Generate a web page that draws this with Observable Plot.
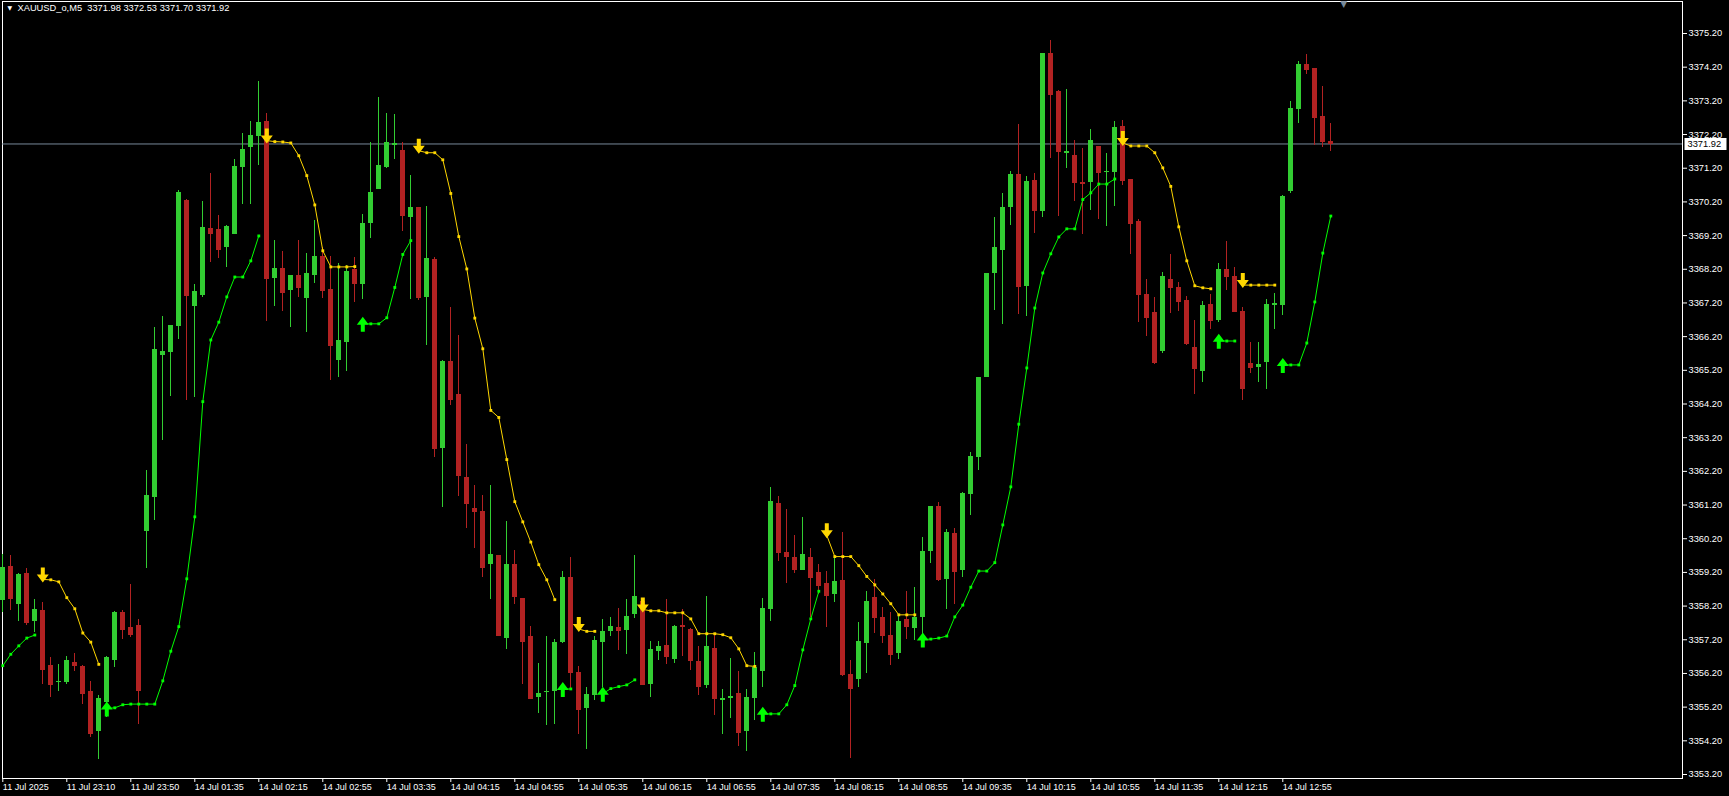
<!DOCTYPE html>
<html>
<head>
<meta charset="utf-8">
<script src="https://cdn.jsdelivr.net/npm/d3@7"></script>
<script src="https://cdn.jsdelivr.net/npm/@observablehq/plot@0.6"></script>
<style>
  html, body { margin: 0; padding: 0; background: #000; }
  #chart { width: 1729px; height: 796px; }
</style>
</head>
<body>
<div id="chart"></div>
<script>
// ---------- DATA (XAUUSD_o, M5) ----------
const symbolName = "XAUUSD_o,M5";
const opens = [
3358.36,3359.39,3358.25,3359.18,3357.74,3358.07,3356.43,3355.92,3355.93,3356.52,
3356.41,3355.66,3354.48,3355.35,3356.57,3358.00,3357.57,3357.62,3360.41,3361.41,
3365.64,3365.73,3366.50,3370.24,3367.10,3367.42,3369.41,3369.38,3368.86,3369.24,
3371.23,3371.83,3372.15,3372.59,3367.93,3368.22,3367.57,3368.01,3367.34,3368.02,
3368.58,3367.60,3365.50,3366.04,3368.20,3367.76,3369.56,3370.57,3371.22,3371.88,
3371.72,3369.75,3370.03,3367.37,3368.49,3362.87,3365.46,3364.48,3362.02,3361.10,
3361.01,3359.42,3359.70,3357.23,3359.43,3358.43,3357.30,3355.49,3355.62,3355.65,
3357.12,3359.05,3356.23,3355.16,3355.55,3357.12,3357.45,3357.56,3357.48,3357.95,
3358.34,3355.87,3356.85,3357.03,3356.62,3357.63,3357.51,3356.56,3355.84,3356.94,
3355.41,3355.47,3355.61,3354.48,3355.46,3356.26,3358.10,3361.25,3359.79,3359.65,
3359.27,3359.64,3359.20,3358.87,3358.53,3358.96,3356.17,3356.03,3357.10,3358.46,
3357.87,3357.33,3356.80,3357.80,3357.52,3357.85,3359.83,3361.15,3359.00,3360.35,
3359.25,3361.50,3362.62,3365.00,3368.07,3368.76,3370.03,3371.02,3367.69,3370.83,
3369.92,3374.60,3373.48,3371.65,3371.58,3370.78,3370.78,3371.84,3371.07,3371.08,
3372.44,3370.86,3369.62,3367.44,3366.91,3365.76,3367.91,3367.67,3367.26,3365.89,
3365.17,3367.14,3366.67,3368.19,3367.98,3366.94,3365.40,3365.29,3365.44,3367.13,
3367.12,3370.50,3372.94,3374.28,3374.16,3372.73,3371.98];
const highs = [
3359.73,3359.70,3359.16,3359.32,3358.40,3358.30,3356.66,3356.47,3356.69,3356.79,
3356.45,3355.95,3355.54,3356.70,3358.04,3358.08,3358.84,3357.79,3362.23,3366.48,
3366.79,3366.54,3370.54,3370.26,3367.75,3370.21,3371.05,3369.80,3369.50,3371.46,
3372.22,3372.59,3373.78,3372.83,3369.05,3368.73,3368.01,3369.05,3368.67,3369.65,
3368.86,3368.58,3368.36,3368.31,3368.55,3369.82,3371.95,3373.29,3372.82,3372.80,
3371.96,3370.99,3370.03,3370.06,3368.55,3365.50,3367.06,3366.23,3363.00,3361.79,
3361.49,3361.79,3359.70,3360.71,3359.85,3358.43,3357.60,3356.51,3357.30,3357.21,
3359.23,3359.65,3356.41,3355.78,3357.29,3357.80,3357.86,3358.13,3358.40,3359.70,
3358.36,3357.15,3357.15,3358.40,3357.63,3358.10,3357.53,3357.00,3358.49,3357.38,
3355.73,3356.65,3356.26,3355.73,3356.82,3358.43,3361.73,3361.46,3361.07,3360.30,
3360.83,3359.90,3359.44,3359.23,3359.67,3360.39,3356.59,3357.71,3358.64,3359.00,
3358.16,3358.00,3357.90,3358.63,3358.75,3360.24,3361.15,3361.28,3360.47,3360.50,
3361.57,3362.76,3364.99,3368.07,3369.73,3370.46,3371.11,3372.51,3370.96,3371.04,
3374.60,3374.99,3373.51,3373.54,3372.01,3371.78,3372.35,3371.84,3371.64,3372.59,
3372.62,3370.88,3369.67,3367.91,3367.36,3368.09,3368.65,3367.81,3367.38,3366.67,
3367.24,3367.44,3368.36,3369.02,3368.24,3367.07,3366.02,3366.02,3367.29,3367.49,
3370.39,3373.18,3374.37,3374.57,3374.16,3373.62,3372.53];
const lows = [
3358.02,3358.08,3357.74,3357.62,3357.43,3355.88,3355.49,3355.66,3355.88,3356.26,
3355.29,3354.30,3353.65,3354.90,3356.37,3357.22,3357.27,3354.67,3359.33,3360.75,
3363.11,3364.41,3366.12,3364.30,3364.38,3367.35,3368.41,3368.53,3368.24,3369.22,
3370.13,3370.13,3371.29,3366.66,3367.10,3366.95,3366.48,3367.37,3366.33,3367.79,
3367.34,3364.91,3364.99,3365.16,3367.20,3367.29,3369.10,3370.57,3371.20,3371.47,
3369.31,3367.30,3367.26,3365.95,3362.62,3361.14,3364.17,3361.44,3360.51,3359.92,
3359.04,3358.41,3357.32,3356.91,3358.24,3355.87,3355.44,3355.01,3354.65,3354.69,
3357.10,3355.74,3354.39,3353.94,3355.40,3355.79,3357.30,3356.88,3356.76,3357.84,
3355.87,3355.50,3356.57,3356.47,3356.51,3356.70,3356.29,3355.55,3355.76,3354.95,
3354.39,3354.86,3354.04,3353.89,3354.79,3355.79,3357.73,3359.51,3358.88,3359.18,
3359.27,3357.86,3358.55,3357.56,3358.32,3356.12,3353.67,3355.79,3356.21,3357.40,
3357.10,3356.45,3356.60,3357.21,3357.17,3357.33,3359.46,3358.93,3358.11,3358.25,
3359.04,3360.90,3362.24,3365.00,3366.97,3366.56,3369.51,3366.86,3366.80,3369.25,
3369.74,3371.50,3369.77,3371.18,3370.22,3369.22,3369.95,3369.68,3369.48,3370.07,
3370.69,3368.63,3366.63,3366.21,3365.36,3365.69,3366.90,3366.96,3365.93,3364.47,
3364.84,3366.40,3366.62,3367.56,3366.95,3364.30,3365.11,3364.84,3364.62,3366.42,
3366.82,3370.46,3372.53,3373.98,3371.87,3371.82,3371.70];
const closes = [
3359.36,3358.42,3359.13,3357.71,3358.10,3356.32,3355.88,3355.96,3356.57,3356.43,
3355.60,3354.42,3355.45,3356.66,3358.00,3357.51,3357.36,3355.69,3361.49,3365.82,
3365.77,3366.52,3370.48,3367.42,3367.54,3369.44,3369.27,3368.80,3369.48,3371.25,
3371.76,3372.17,3372.56,3367.93,3368.22,3367.52,3368.01,3367.67,3368.07,3368.58,
3367.58,3365.94,3366.08,3368.13,3367.79,3369.56,3370.49,3371.29,3371.96,3371.93,
3369.79,3370.03,3367.37,3368.52,3362.87,3365.46,3364.32,3362.09,3361.26,3361.02,
3359.36,3359.73,3357.32,3359.43,3358.49,3357.16,3355.46,3355.61,3355.66,3357.12,
3359.05,3356.23,3355.13,3355.58,3357.18,3357.45,3357.60,3357.49,3357.89,3358.49,
3355.87,3356.91,3357.00,3356.70,3357.60,3357.58,3356.57,3355.81,3357.00,3355.47,
3355.46,3355.52,3354.46,3355.49,3356.38,3358.13,3361.31,3359.80,3359.66,3359.30,
3359.74,3359.06,3358.82,3358.50,3358.93,3356.17,3355.74,3357.14,3358.34,3357.87,
3357.33,3356.75,3357.73,3357.59,3357.87,3359.83,3361.15,3359.00,3360.39,3359.23,
3361.54,3362.64,3364.99,3368.07,3368.84,3370.03,3371.02,3367.69,3370.81,3369.95,
3374.60,3373.40,3371.70,3371.69,3370.78,3370.76,3372.01,3371.06,3371.10,3372.41,
3370.84,3369.57,3367.46,3366.77,3365.44,3367.98,3367.67,3367.25,3366.01,3365.24,
3367.12,3366.68,3368.19,3367.99,3366.95,3364.66,3365.29,3365.37,3367.15,3367.18,
3370.36,3372.96,3374.28,3374.13,3372.70,3372.00,3371.92];

// trailing indicator: lower (up-trend, green) and upper (down-trend, yellow); null = not drawn
const _ = null;
const upLine = [
3356.43,3356.77,3357.02,3357.25,3357.34,_,_,_,_,_,
_,_,_,3355.16,3355.18,3355.27,3355.29,3355.29,3355.29,3355.29,
3355.98,3356.86,3357.59,3359.01,3360.85,3364.27,3366.10,3366.63,3367.38,3367.97,
3367.97,3368.45,3369.19,_,_,_,_,_,_,_,
_,_,_,_,_,3366.58,3366.58,3366.58,3366.76,3367.66,
3368.64,3369.05,_,_,_,_,_,_,_,_,
_,_,_,_,_,_,_,_,_,_,
3355.74,3355.74,_,_,_,3355.60,3355.75,3355.81,3355.86,3356.01,
_,_,_,_,_,_,_,_,_,_,
_,_,_,_,_,3355.00,3355.00,3355.00,3355.27,3355.84,
3356.90,3357.82,3358.64,_,_,_,_,_,_,_,
_,_,_,_,_,3357.21,3357.22,3357.25,3357.31,3357.88,
3358.23,3358.76,3359.24,3359.24,3359.49,3360.61,3361.74,3363.60,3365.27,3367.05,
3368.09,3368.66,3369.16,3369.40,3369.40,3370.27,3370.47,3370.73,3370.73,3370.88,
_,_,_,_,_,_,_,_,_,_,
_,_,3366.08,3366.07,3366.07,_,_,_,_,_,
3365.36,3365.36,3365.36,3366.01,3367.23,3368.68,3369.78];
const downLine = [
_,_,_,_,_,3358.99,3358.98,3358.92,3358.45,3358.12,
3357.40,3357.13,3356.47,_,_,_,_,_,_,_,
_,_,_,_,_,_,_,_,_,_,
_,_,_,3372.02,3371.99,3371.98,3371.95,3371.57,3370.98,3370.11,
3368.75,3368.27,3368.27,3368.27,3368.28,_,_,_,_,_,
_,_,3371.72,3371.66,3371.66,3371.45,3370.45,3369.17,3368.21,3366.75,
3365.84,3364.01,3363.80,3362.55,3361.30,3360.70,3360.10,3359.43,3358.98,3358.39,
_,_,3357.52,3357.45,3357.45,_,_,_,_,_,
3358.10,3358.06,3358.06,3358.00,3358.00,3358.00,3357.82,3357.38,3357.38,3357.38,
3357.35,3357.26,3356.93,3356.43,3356.41,_,_,_,_,_,
_,_,_,3360.30,3359.67,3359.67,3359.67,3359.40,3359.08,3358.83,
3358.56,3358.27,3357.94,3357.94,3357.94,_,_,_,_,_,
_,_,_,_,_,_,_,_,_,_,
_,_,_,_,_,_,_,_,_,_,
3371.95,3371.86,3371.86,3371.86,3371.66,3371.21,3370.66,3369.46,3368.45,3367.71,
3367.65,3367.62,_,_,_,3367.73,3367.73,3367.73,3367.73,3367.73,
_,_,_,_,_,_,_];

// axis ticks
const priceTicks = d3.range(0, 23).map(k => +(3353.2 + k).toFixed(2));
const timeTickIndex = [0,8,16,24,32,40,48,56,64,72,80,88,96,104,112,120,128,136,144,152,160];
const timeTickLabels = ["11 Jul 2025","11 Jul 23:10","11 Jul 23:50","14 Jul 01:35","14 Jul 02:15",
  "14 Jul 02:55","14 Jul 03:35","14 Jul 04:15","14 Jul 04:55","14 Jul 05:35","14 Jul 06:15",
  "14 Jul 06:55","14 Jul 07:35","14 Jul 08:15","14 Jul 08:55","14 Jul 09:35","14 Jul 10:15",
  "14 Jul 10:55","14 Jul 11:35","14 Jul 12:15","14 Jul 12:55"];

// ---------- CHART ----------
const n = closes.length;
const idx = d3.range(n);
const last = n - 1;
const lastPrice = closes[last];
const header = `${symbolName}  ${opens[last].toFixed(2)} ${highs[last].toFixed(2)} ${lows[last].toFixed(2)} ${closes[last].toFixed(2)}`;

const BULL = "#32cd32", BEAR = "#b22222", UPC = "#00ff00", DNC = "#ffd700", GRID = "#778899";
const col = i => closes[i] >= opens[i] ? BULL : BEAR;
const half = 0.3125;
const FONT = "Liberation Sans, Arial, sans-serif";

const upArrow = { draw(c) {
  c.moveTo(0, -7); c.lineTo(6, 1); c.lineTo(2, 1); c.lineTo(2, 8);
  c.lineTo(-2, 8); c.lineTo(-2, 1); c.lineTo(-6, 1); c.closePath(); } };
const downArrow = { draw(c) {
  c.moveTo(0, 3); c.lineTo(6, -5); c.lineTo(2, -5); c.lineTo(2, -12);
  c.lineTo(-2, -12); c.lineTo(-2, -5); c.lineTo(-6, -5); c.closePath(); } };
const labelBox = { draw(c) { c.rect(2, -6, 42, 12); } };

const has = arr => i => arr[i] != null;
const starts = arr => idx.filter(i => i > 0 && arr[i] != null && arr[i - 1] == null);
const upStarts = starts(upLine), dnStarts = starts(downLine);

const chart = Plot.plot({
  width: 1729, height: 796,
  marginLeft: 2, marginRight: 47, marginTop: 1, marginBottom: 18,
  style: { background: "#000", color: "#fff", fontFamily: FONT, overflow: "visible" },
  x: { type: "linear", domain: [0, n - 1], range: [2.3, 2.3 + 8 * (n - 1)], axis: null },
  y: { type: "linear", domain: [3353.2, 3375.2], range: [774, 33], axis: null },
  marks: [
    Plot.frame({ stroke: "#fff" }),
    Plot.ruleY([lastPrice], { stroke: GRID, strokeWidth: 1 }),
    // candles
    Plot.ruleX(idx, { x: i => i, y1: i => lows[i], y2: i => highs[i], stroke: col, shapeRendering: "crispEdges" }),
    Plot.rect(idx, { x1: i => i - half, x2: i => i + half, y1: i => opens[i], y2: i => closes[i], fill: col, shapeRendering: "crispEdges" }),
    Plot.ruleY(idx, { y: i => closes[i], x1: i => i - half, x2: i => i + half, stroke: col, shapeRendering: "crispEdges" }),
    // indicator lines
    Plot.line(idx, { x: i => i, y: i => upLine[i] == null ? NaN : upLine[i], stroke: UPC, strokeWidth: 1 }),
    Plot.line(idx, { x: i => i, y: i => downLine[i] == null ? NaN : downLine[i], stroke: DNC, strokeWidth: 1 }),
    Plot.dot(idx.filter(i => has(upLine)(i) && !upStarts.includes(i)), { x: i => i, y: i => upLine[i], symbol: "square", r: 1.6, fill: UPC, stroke: null }),
    Plot.dot(idx.filter(i => has(downLine)(i) && !dnStarts.includes(i)), { x: i => i, y: i => downLine[i], symbol: "square", r: 1.6, fill: DNC, stroke: null }),
    Plot.dot(upStarts, { x: i => i, y: i => upLine[i], symbol: upArrow, r: 5, fill: UPC, stroke: null }),
    Plot.dot(dnStarts, { x: i => i, y: i => downLine[i], symbol: downArrow, r: 5, fill: DNC, stroke: null }),
    // axes
    Plot.axisY(priceTicks, { anchor: "right", tickSize: 4, tickPadding: 2, tickFormat: d => d.toFixed(2), color: "#fff", fontSize: 9.3, fontFamily: FONT, label: null }),
    Plot.axisX(timeTickIndex, { anchor: "bottom", tickSize: 4, tickPadding: 1, tickFormat: d => timeTickLabels[timeTickIndex.indexOf(d)], textAnchor: "start", color: "#fff", fontSize: 9, fontFamily: FONT, label: null }),
    // last price label
    Plot.dot([lastPrice], { y: d => d, frameAnchor: "right", symbol: labelBox, r: 5, fill: "#fff", stroke: null }),
    Plot.text([lastPrice], { y: d => d, frameAnchor: "right", dx: 5, textAnchor: "start", text: d => d.toFixed(2), fill: "#000", fontSize: 9.3, fontFamily: FONT }),
    // header
    Plot.text([header], { frameAnchor: "top-left", dx: 15, dy: 3, textAnchor: "start", lineAnchor: "top", text: d => d, fill: "#fff", fontSize: 9.3, fontFamily: FONT }),
    Plot.text(["\u25BC"], { frameAnchor: "top-left", dx: 5, dy: 4, textAnchor: "start", lineAnchor: "top", text: d => d, fill: "#fff", fontSize: 6, fontFamily: "DejaVu Sans" }),
    Plot.text([n + 0.6], { x: d => d, frameAnchor: "top", dy: -1, lineAnchor: "top", text: () => "\u25BC", fill: GRID, fontSize: 9, fontFamily: "DejaVu Sans" })
  ]
});
document.getElementById("chart").appendChild(chart);
</script>
</body>
</html>
